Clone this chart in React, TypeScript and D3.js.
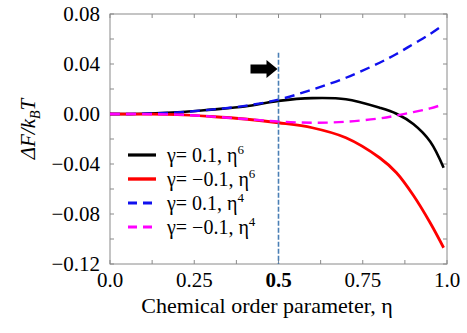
import React, { useEffect } from 'react';
import * as d3 from 'd3';

// order parameter samples and the four free-energy curves
const eta = [0, 0.1, 0.2, 0.3, 0.4, 0.5, 0.6, 0.7, 0.8, 0.85, 0.9, 0.95, 0.99];
const gPos6 = [0, 0.0002, 0.0013, 0.0035, 0.006, 0.0105, 0.0127, 0.0118, 0.005, 0.0002, -0.008, -0.022, -0.043];
const gNeg6 = [0, -0.0001, -0.0005, -0.002, -0.004, -0.007, -0.011, -0.019, -0.035, -0.047, -0.065, -0.087, -0.107];
const gPos4 = [0, 0.0002, 0.0013, 0.0035, 0.0065, 0.0115, 0.0195, 0.029, 0.041, 0.048, 0.056, 0.064, 0.0715];
const gNeg4 = [0, -0.0001, -0.0005, -0.002, -0.004, -0.006, -0.007, -0.0062, -0.0035, -0.0012, 0.0015, 0.0045, 0.0078];

const seriesNames = ['γ= 0.1, η', 'γ= −0.1, η', 'γ= 0.1, η', 'γ= −0.1, η'];
const seriesPowers = ['6', '6', '4', '4'];

const xTicks = [0, 0.25, 0.5, 0.75, 1.0];
const xTickLabels = ['0.0', '0.25', '0.5', '0.75', '1.0'];
const yTicks = [0.08, 0.04, 0, -0.04, -0.08, -0.12];

// vertical marker at eta = 0.5 and the arrow pointing at it
const markerEta = 0.5;
const markerTop = 0.049;
const arrowTip = { eta: 0.5, value: 0.036 };

const serif = "'Times New Roman', Times, 'Liberation Serif', 'Nimbus Roman', 'Noto Serif', FreeSerif, Tinos, 'DejaVu Serif', serif";

export default function App() {
  useEffect(() => {
    document.body.style.margin = '0';
  }, []);

  const width = 467;
  const height = 333;
  const margin = { top: 14, right: 20, bottom: 69, left: 110 };

  const x = d3.scaleLinear().domain([0, 1]).range([margin.left, width - margin.right]);
  const y = d3.scaleLinear().domain([-0.12, 0.08]).range([height - margin.bottom, margin.top]);

  const series = [
    { values: gPos6, color: '#000000', dash: null, w: 2.6 },
    { values: gNeg6, color: '#ff0000', dash: null, w: 2.8 },
    { values: gPos4, color: '#1010ee', dash: '10,6', w: 2.4 },
    { values: gNeg4, color: '#ff00ff', dash: '10,6', w: 2.4 },
  ];

  const line = d3
    .line<number>()
    .x((_, i) => x(eta[i]))
    .y((v) => y(v))
    .curve(d3.curveCatmullRom.alpha(0.5));

  const frame = '#8a8a8a';
  const x0 = x(0), x1 = x(1), yTop = y(0.08), yBot = y(-0.12);
  const minorX = d3.range(0, 1.0001, 0.125);
  const minorY = d3.range(-0.12, 0.0801, 0.02);
  const fmt = d3.format('.2f');

  const ax = x(arrowTip.eta) - 1;
  const ay = y(arrowTip.value);
  const arrow = `M${ax - 27},${ay - 4.5} L${ax - 11},${ay - 4.5} L${ax - 11},${ay - 9} L${ax},${ay} L${ax - 11},${ay + 9} L${ax - 11},${ay + 4.5} L${ax - 27},${ay + 4.5} Z`;

  const legendY = [155, 179, 203, 227];
  const txt = { fontFamily: serif };

  return (
    <svg width={width} height={height} style={{ display: 'block', background: '#fff', fontFamily: serif }}>
      {/* frame */}
      <rect x={x0} y={yTop} width={x1 - x0} height={yBot - yTop} fill="none" stroke={frame} strokeWidth={1} />
      {minorX.map((t) => (
        <g key={'xt' + t} stroke={frame}>
          <line x1={x(t)} x2={x(t)} y1={yBot} y2={yBot - 4} />
          <line x1={x(t)} x2={x(t)} y1={yTop} y2={yTop + 4} />
        </g>
      ))}
      {minorY.map((t) => (
        <g key={'yt' + t} stroke={frame}>
          <line x1={x0} x2={x0 + 4} y1={y(t)} y2={y(t)} />
          <line x1={x1} x2={x1 - 4} y1={y(t)} y2={y(t)} />
        </g>
      ))}
      {xTicks.map((t, i) => (
        <text key={'xl' + t} style={txt} x={x(t)} y={287} textAnchor="middle" fontSize={21} fontWeight={t === 0.5 ? 'bold' : 'normal'}>
          {xTickLabels[i]}
        </text>
      ))}
      {yTicks.map((t) => (
        <text key={'yl' + t} style={txt} x={x0 - 10} y={y(t)} dy="0.35em" textAnchor="end" fontSize={21}>
          {fmt(t)}
        </text>
      ))}

      {/* curves */}
      {series.map((s, i) => (
        <path
          key={'s' + i}
          d={line(s.values) || ''}
          fill="none"
          stroke={s.color}
          strokeWidth={s.w}
          strokeDasharray={s.dash || undefined}
        />
      ))}

      {/* marker line and arrow */}
      <line
        x1={x(markerEta)}
        x2={x(markerEta)}
        y1={y(markerTop)}
        y2={yBot}
        stroke="#4a7fb5"
        strokeWidth={1.6}
        strokeDasharray="5,2"
      />
      <path d={arrow} fill="#000" />

      {/* legend */}
      {series.map((s, i) => (
        <g key={'lg' + i}>
          <line
            x1={128}
            x2={156}
            y1={legendY[i]}
            y2={legendY[i]}
            stroke={s.color}
            strokeWidth={s.w + 0.6}
            strokeDasharray={s.dash ? '9,6' : undefined}
          />
          <text style={txt} x={167} y={legendY[i] + 7} fontSize={20}>
            {seriesNames[i]}
            <tspan dy={-8} fontSize={13}>{seriesPowers[i]}</tspan>
          </text>
        </g>
      ))}

      {/* axis titles */}
      <text style={txt} x={267} y={313} textAnchor="middle" fontSize={22}>
        Chemical order parameter, η
      </text>
      <text style={txt} transform="translate(35,129) rotate(-90)" textAnchor="middle" fontSize={21} fontStyle="italic">
        ΔF/k<tspan dy={5} fontSize={14}>B</tspan>
        <tspan dy={-5}>T</tspan>
      </text>
    </svg>
  );
}
